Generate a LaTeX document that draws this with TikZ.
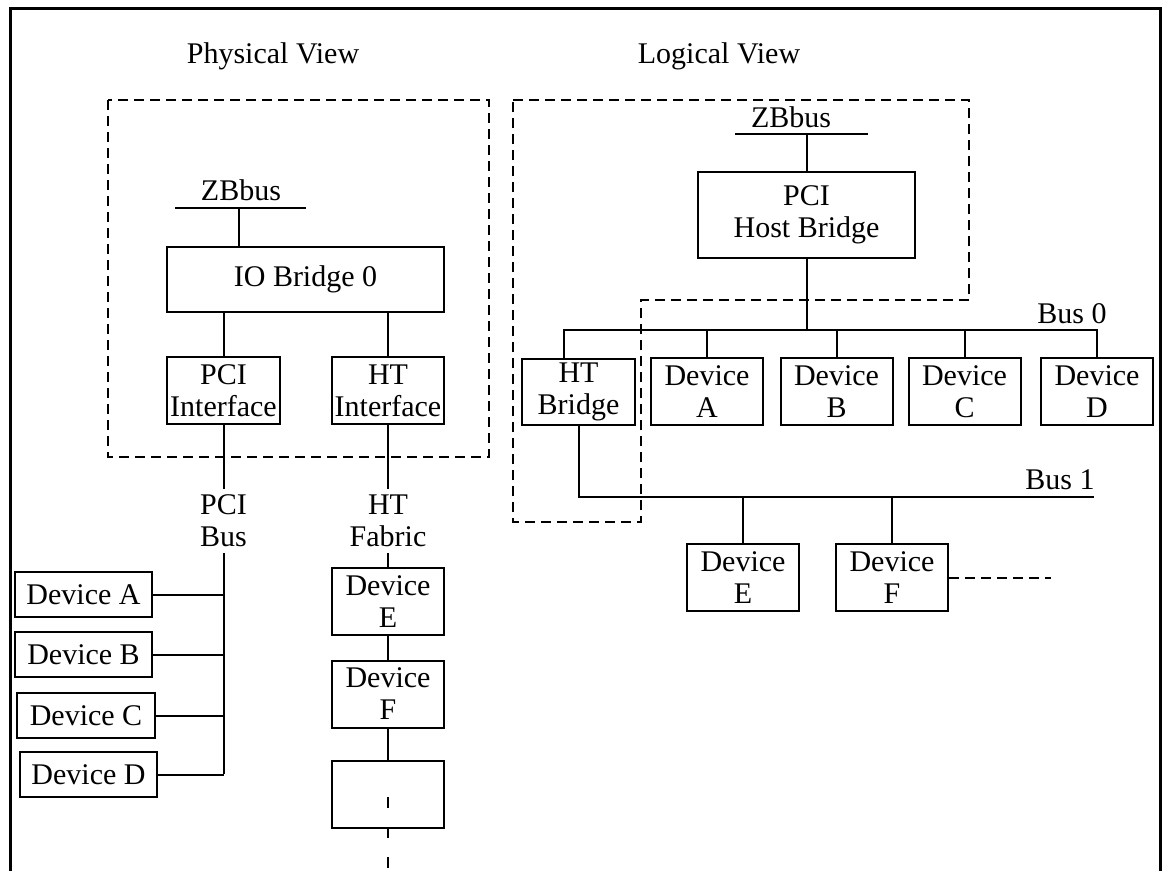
\documentclass[tikz,border=0pt]{standalone}
\usepackage{fontspec}
\setmainfont{Liberation Serif}
\usepackage{tikz}
\usetikzlibrary{positioning}
\tikzset{
    box/.style = {rectangle, draw=black, line width=2pt, inner sep=0pt, align=center},
    devbox/.style = {box, minimum width=112pt, minimum height=67pt},
    wide/.style = {box, minimum width=137pt, minimum height=45pt},
    lbl/.style = {inner sep=6pt, align=center},
    wire/.style = {line width=2pt},
    group/.style = {line width=2pt, dash pattern=on 10pt off 6pt}
}

\begin{document}
\begin{tikzpicture}[x=1pt, y=-1pt, font=\fontsize{30}{32}\selectfont]
\useasboundingbox (0,0) rectangle (1165,871);
\draw [line width=3pt] (10,871) -- (10,8) -- (1160,8) -- (1160,871);

\node (physt) [lbl, anchor=base] at (273,63) {Physical View};
\node (logt) [lbl, anchor=base] at (719,63) {Logical View};

\draw [group] (108,100) rectangle (489,457);
\node (zbl) [lbl, anchor=base] at (241,200) {ZBbus};
\coordinate (zbla) at (175,208);
\coordinate (zblb) at (306,208);
\coordinate (zblc) at (239,208);
\node (io) [box, minimum width=277pt, minimum height=65pt] at (305.5,279.5) {IO Bridge 0};
\node (pcii) [devbox, minimum width=113pt] at (223.5,390.5) {PCI\\Interface};
\node (hti) [devbox] at (388,390.5) {HT\\Interface};
\node (pcib) [lbl] at (223.5,521) {PCI\\Bus};
\node (htf) [lbl] at (388,521) {HT\\Fabric};

\draw [wire] (zbla) -- (zblb);
\draw [wire] (zblc) -- (zblc |- io.north);
\draw [wire] (pcii.north) -- (pcii.north |- io.south);
\draw [wire] (hti.north) -- (hti.north |- io.south);
\draw [wire] (pcii.south) -- (pcib.north);
\draw [wire] (hti.south) -- (htf.north);

\node (pdeva) [wide] at (83.5,594.5) {Device A};
\node (pdevb) [wide] at (83.5,654.5) {Device B};
\node (pdevc) [wide, minimum width=138pt] at (86,715.5) {Device C};
\node (pdevd) [wide] at (88.5,774.5) {Device D};
\coordinate (pcibot) at (223.5,774);
\draw [wire] (pcib.south) -- (pcibot);
\draw [wire] (pdeva.east) -- (pdeva.east -| pcibot);
\draw [wire] (pdevb.east) -- (pdevb.east -| pcibot);
\draw [wire] (pdevc.east) -- (pdevc.east -| pcibot);
\draw [wire] (pdevd.east) -- (pdevd.east -| pcibot);

\node (pdeve) [devbox] at (388,601.5) {Device\\E};
\node (pdevf) [devbox] at (388,694) {Device\\F};
\node (pdevx) [devbox] at (388,794) {};
\coordinate (htend) at (388,871);
\draw [wire] (htf.south) -- (pdeve.north);
\draw [wire] (pdeve) -- (pdevf);
\draw [wire] (pdevf) -- (pdevx);
\draw [wire, dash pattern=on 11pt off 19pt] (pdevx.center) ++(0,3) -- (htend);

\draw [group] (513,100) -- (969,100) -- (969,300) -- (641,300) -- (641,522) -- (513,522) -- cycle;
\node (zbr) [lbl, anchor=base] at (791,127) {ZBbus};
\coordinate (zbra) at (735,134);
\coordinate (zbrb) at (868,134);
\node (host) [box, minimum width=217pt, minimum height=86pt] at (806.5,215) {PCI\\Host Bridge};
\draw [wire] (zbra) -- (zbrb);
\draw [wire] (host.north) -- (host.north |- zbra);

\coordinate (bus0) at (564,330);
\node (b0t) [lbl, anchor=base] at (1072,323) {Bus 0};
\node (htb) [devbox, minimum width=113pt, minimum height=66pt] at (578.5,392) {HT\\Bridge};
\node (ldeva) [devbox] at (707,391.5) {Device\\A};
\node (ldevb) [devbox] at (836.5,391.5) {Device\\B};
\node (ldevc) [devbox] at (964.5,391.5) {Device\\C};
\node (ldevd) [devbox] at (1097,391.5) {Device\\D};
\draw [wire] (ldevd.north) |- (bus0) -- (bus0 |- htb.north);
\draw [wire] (host.south) -- (host.south |- bus0);
\draw [wire] (ldeva.north) -- (ldeva.north |- bus0);
\draw [wire] (ldevb.north) -- (ldevb.north |- bus0);
\draw [wire] (ldevc.north) -- (ldevc.north |- bus0);

\coordinate (bus1) at (1094,497);
\node (b1t) [lbl, anchor=base] at (1060,489) {Bus 1};
\node (ldeve) [devbox] at (743,577.5) {Device\\E};
\node (ldevf) [devbox] at (892,577.5) {Device\\F};
\coordinate (fend) at (1051,577.5);
\draw [wire] (htb.south) |- (bus1);
\draw [wire] (ldeve.north) -- (ldeve.north |- bus1);
\draw [wire] (ldevf.north) -- (ldevf.north |- bus1);
\draw [group] (ldevf.east) -- (fend);
\end{tikzpicture}
\end{document}
